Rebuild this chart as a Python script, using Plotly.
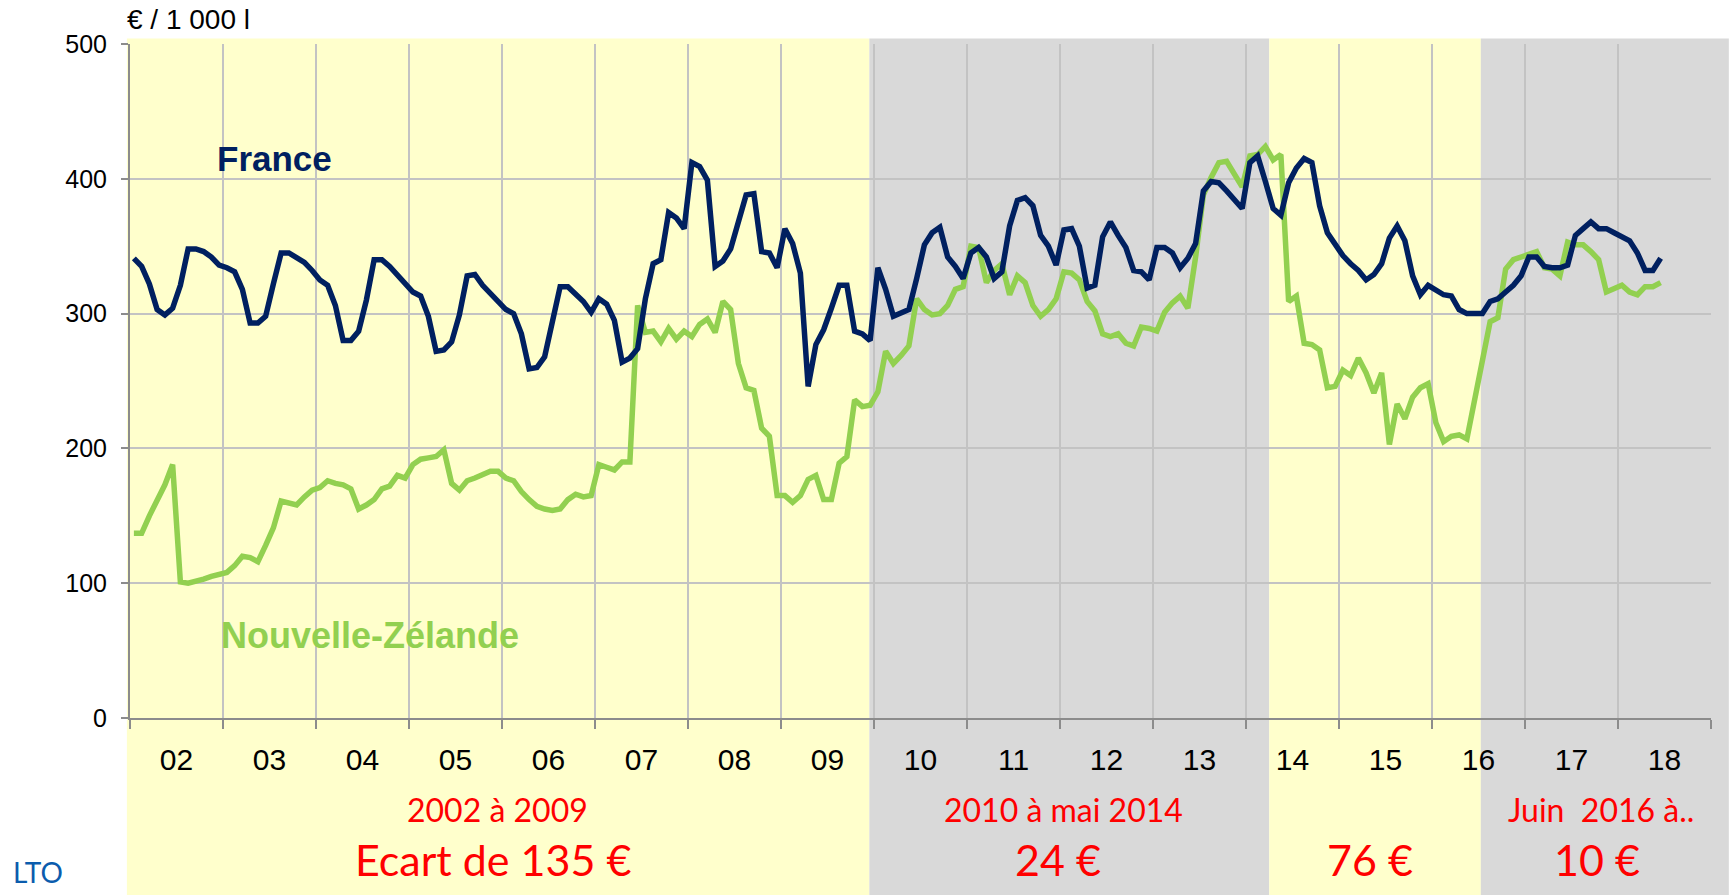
import plotly.graph_objects as go

# ---------------- data (monthly, Jan 2002 -> Jun 2018), EUR / 1000 l ----------------
france = [
    341, 335, 322, 303, 299, 304, 321, 348, 348, 346, 342, 336,   # 2002
    334, 331, 318, 293, 293, 298, 322, 345, 345, 341, 338, 332,   # 2003
    325, 321, 306, 280, 280, 287, 310, 340, 340, 335, 329, 322,   # 2004
    316, 313, 298, 272, 273, 279, 299, 328, 329, 321, 315, 309,   # 2005
    303, 300, 285, 259, 260, 268, 293, 320, 320, 314, 309, 301,   # 2006
    311, 307, 295, 264, 267, 274, 311, 337, 340, 375, 371, 363,   # 2007
    412, 409, 399, 335, 339, 348, 370, 388, 389, 346, 345, 334,   # 2008
    363, 352, 330, 246, 277, 288, 304, 321, 321, 287, 285, 280,   # 2009
    334, 318, 298, 300, 303, 326, 351, 360, 364, 342, 335, 326,   # 2010
    345, 349, 342, 326, 331, 365, 384, 386, 380, 358, 350, 336,   # 2011
    362, 363, 350, 319, 321, 357, 368, 358, 349, 332, 331, 325,   # 2012
    349, 349, 345, 334, 341, 352, 391, 398, 397, 391, 385, 378,   # 2013
    412, 417, 398, 378, 373, 397, 408, 415, 412, 380, 360, 351,   # 2014
    343, 337, 332, 325, 329, 337, 356, 365, 354, 328, 314, 321,   # 2015
    317, 314, 313, 303, 300, 300, 300, 309, 311, 316, 321, 328,   # 2016
    342, 342, 335, 334, 334, 336, 358, 363, 368, 363, 363, 360,   # 2017
    357, 354, 345, 332, 332, 341,                                 # 2018
]
nouvelle_zelande = [
    137, 137, 150, 162, 173, 188, 101, 100, 101, 103, 105, 106,   # 2002
    108, 113, 120, 119, 116, 128, 141, 161, 160, 158, 164, 169,   # 2003
    171, 176, 174, 173, 170, 155, 158, 162, 170, 172, 180, 178,   # 2004
    188, 192, 193, 194, 199, 174, 169, 176, 178, 180, 183, 183,   # 2005
    178, 176, 168, 162, 157, 155, 154, 155, 162, 166, 164, 165,   # 2006
    188, 186, 184, 190, 190, 306, 286, 287, 279, 289, 281, 287,   # 2007
    283, 292, 296, 286, 309, 303, 263, 245, 243, 215, 209, 165,   # 2008
    165, 160, 165, 177, 180, 162, 162, 189, 194, 236, 231, 232,   # 2009
    242, 272, 263, 269, 276, 311, 303, 299, 300, 306, 318, 320,   # 2010
    350, 349, 323, 332, 337, 314, 328, 323, 306, 298, 303, 311,   # 2011
    331, 330, 325, 309, 302, 285, 283, 285, 278, 276, 290, 289,   # 2012
    287, 301, 308, 313, 304, 342, 388, 401, 412, 413, 403, 394,   # 2013
    417, 418, 424, 414, 418, 309, 313, 278, 277, 273, 245, 246,   # 2014
    258, 254, 267, 256, 241, 256, 203, 233, 222, 238, 245, 248,   # 2015
    219, 205, 209, 210, 207, 236, 268, 294, 297, 333, 340, 342,   # 2016
    344, 346, 334, 333, 328, 353, 351, 351, 346, 340, 316, 318,   # 2017
    321, 316, 314, 320, 320, 323,                                 # 2018
]
year_labels = ["02", "03", "04", "05", "06", "07", "08", "09", "10",
               "11", "12", "13", "14", "15", "16", "17", "18"]

# periods (in month slots from Jan 2002) with their label and average gap
period_start = [-0.4, 95.4, 147.0, 174.3]
period_end = [95.4, 147.0, 174.3, 206.3]
period_color = ["#FFFFCC", "#D9D9D9", "#FFFFCC", "#D9D9D9"]
period_title = ["2002 à 2009", "2010 à mai 2014", "", "Juin  2016 à.."]
period_gap = ["Ecart de 135 €", "24 €", "76 €", "10 €"]
period_title_x = [47.4, 120.4, 160.0, 189.8]
period_gap_x = [46.8, 119.7, 160.0, 189.3]

n_years = len(year_labels)
x_max = 12 * n_years
months = [i + 0.5 for i in range(len(france))]

NAVY = "#002060"
GREEN = "#92D050"
RED = "#FF0000"
AXIS = "#8C8C8C"
GRID = "#C3C3C3"
ARIAL = "Arial, Liberation Sans, sans-serif"

fig = go.Figure()
fig.add_trace(go.Scatter(x=months, y=nouvelle_zelande, mode="lines", name="Nouvelle-Zélande",
                         line=dict(color=GREEN, width=5.5), showlegend=False))
fig.add_trace(go.Scatter(x=months, y=france, mode="lines", name="France",
                         line=dict(color=NAVY, width=5.5), showlegend=False))

shapes = []
for s, e, c in zip(period_start, period_end, period_color):
    shapes.append(dict(type="rect", xref="paper", yref="paper",
                       x0=s / x_max, x1=e / x_max, y0=-0.3, y1=1.008,
                       fillcolor=c, line=dict(width=0), layer="below"))

annotations = [
    dict(text="€ / 1 000 l", xref="paper", yref="paper", x=-0.003, y=1.037,
         xanchor="left", yanchor="middle", showarrow=False,
         font=dict(family=ARIAL, size=28, color="#000000")),
    dict(text="<b>France</b>", xref="x", yref="y", x=18.7, y=415,
         xanchor="center", yanchor="middle", showarrow=False,
         font=dict(family=ARIAL, size=35, color=NAVY)),
    dict(text="<b>Nouvelle-Zélande</b>", xref="x", yref="y", x=31.0, y=61,
         xanchor="center", yanchor="middle", showarrow=False,
         font=dict(family=ARIAL, size=36, color=GREEN)),
    dict(text="LTO", xref="paper", yref="paper", x=-0.058, y=-0.229,
         xanchor="center", yanchor="middle", showarrow=False,
         font=dict(family="Lato", size=28, color="#0B5CAD")),
]
for t, tx, g, gx in zip(period_title, period_title_x, period_gap, period_gap_x):
    if t:
        annotations.append(dict(text=t, xref="x", yref="paper", x=tx, y=-0.1356,
                                xanchor="center", yanchor="middle", showarrow=False,
                                font=dict(family="Lato", size=32, color=RED)))
    annotations.append(dict(text=g, xref="x", yref="paper", x=gx, y=-0.2097,
                            xanchor="center", yanchor="middle", showarrow=False,
                            font=dict(family="Lato", size=43, color=RED)))

fig.update_layout(
    width=1731, height=895,
    margin=dict(l=130, r=20, t=44, b=177, pad=0),
    paper_bgcolor="white", plot_bgcolor="rgba(0,0,0,0)",
    shapes=shapes, annotations=annotations,
    xaxis=dict(range=[0, x_max], tickmode="array",
               tickvals=[12 * k + 6 for k in range(n_years)], ticktext=year_labels,
               ticks="", showgrid=False, zeroline=False,
               showline=True, linecolor=AXIS, linewidth=2,
               tickfont=dict(family=ARIAL, size=30, color="#000000"),
               ticklabelstandoff=14,
               minor=dict(tick0=0, dtick=12, showgrid=True, gridcolor=GRID, gridwidth=1.5,
                          ticks="outside", ticklen=9, tickcolor=AXIS, tickwidth=2)),
    yaxis=dict(range=[0, 500], tickmode="linear", tick0=0, dtick=100,
               showgrid=True, gridcolor=GRID, gridwidth=1.5, zeroline=False,
               showline=True, linecolor=AXIS, linewidth=2,
               ticks="outside", ticklen=7, tickcolor=AXIS, tickwidth=2,
               tickfont=dict(family=ARIAL, size=25, color="#000000"),
               ticklabelstandoff=9),
)

fig.write_html("out.html", config={"displayModeBar": False},
               post_script="document.body.style.margin='0px';")
